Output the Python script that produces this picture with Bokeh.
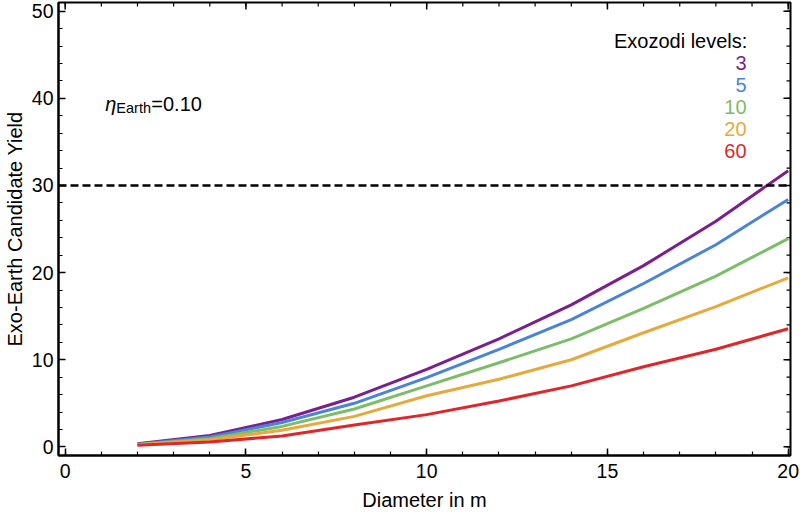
import math
from bokeh.plotting import figure
from bokeh.models import FixedTicker, Label, Span
from bokeh.embed import file_html
from bokeh.resources import INLINE

# ---- data ----
diameters = [2, 4, 6, 8, 10, 12, 14, 16, 18, 20]
exozodi_levels = ["3", "5", "10", "20", "60"]
yield_3 = [0.35, 1.32, 3.14, 5.7, 8.9, 12.4, 16.3, 20.8, 25.9, 31.7]
yield_5 = [0.3, 1.13, 2.8, 5.0, 7.95, 11.2, 14.6, 18.75, 23.2, 28.4]
yield_10 = [0.28, 0.94, 2.35, 4.35, 7.0, 9.66, 12.4, 15.9, 19.6, 23.9]
yield_20 = [0.25, 0.83, 1.9, 3.5, 5.86, 7.76, 10.0, 13.1, 16.1, 19.4]
yield_60 = [0.2, 0.57, 1.25, 2.5, 3.7, 5.26, 7.0, 9.2, 11.2, 13.56]
target_yield = 30
x_ticks = [0, 5, 10, 15, 20]
x_minor = list(range(0, 21))
y_ticks = [0, 10, 20, 30, 40, 50]
y_minor = list(range(0, 51, 2))

series = [yield_3, yield_5, yield_10, yield_20, yield_60]
colors = ["#7B1F8E", "#4A84D9", "#7DBC68", "#E5AA3B", "#E0262A"]

FONT = "Liberation Sans"
X0, X1 = -0.185, 20.064
Y0, Y1 = -0.99, 51.0

p = figure(width=800, height=513, x_range=(X0, X1), y_range=(Y0, Y1),
           output_backend="svg", toolbar_location=None,
           min_border_left=57, min_border_right=10, min_border_top=2,
           min_border_bottom=56)
p.xgrid.visible = False
p.ygrid.visible = False
p.outline_line_color = "black"
p.outline_line_width = 2
p.background_fill_color = "white"
p.border_fill_color = "white"

p.xaxis[0].ticker = FixedTicker(ticks=x_ticks, minor_ticks=x_minor)
p.yaxis[0].ticker = FixedTicker(ticks=y_ticks, minor_ticks=y_minor)

for ax in (p.xaxis[0], p.yaxis[0]):
    ax.axis_line_color = "black"
    ax.axis_line_width = 2
    ax.major_tick_in = 7
    ax.major_tick_out = 0
    ax.minor_tick_in = 4
    ax.minor_tick_out = 0
    ax.major_tick_line_width = 1.5
    ax.minor_tick_line_width = 1.2
    ax.major_label_text_font = FONT
    ax.major_label_text_font_size = "19.5px"
    ax.major_label_text_color = "black"
    ax.axis_label_text_font = FONT
    ax.axis_label_text_font_size = "20px"
    ax.axis_label_text_font_style = "normal"
    ax.axis_label_text_color = "black"

p.xaxis[0].axis_label = "Diameter in m"
p.yaxis[0].axis_label = "Exo-Earth Candidate Yield"
p.xaxis[0].major_label_standoff = 8
p.xaxis[0].axis_label_standoff = 8
p.yaxis[0].major_label_standoff = 5
p.yaxis[0].axis_label_standoff = 3

# frame ticks on top and right edges (inward)
p.ray(x=x_ticks, y=[Y1] * len(x_ticks), length=7, length_units="screen",
      angle=-math.pi / 2, line_color="black", line_width=1.5)
p.ray(x=x_minor, y=[Y1] * len(x_minor), length=4, length_units="screen",
      angle=-math.pi / 2, line_color="black", line_width=1.2)
p.ray(x=[X1] * len(y_ticks), y=y_ticks, length=7, length_units="screen",
      angle=math.pi, line_color="black", line_width=1.5)
p.ray(x=[X1] * len(y_minor), y=y_minor, length=4, length_units="screen",
      angle=math.pi, line_color="black", line_width=1.2)

for ys, c in zip(series, colors):
    p.line(diameters, ys, line_color=c, line_width=3)

p.add_layout(Span(location=target_yield, dimension="width", line_color="black",
                  line_width=2.5, line_dash="8 4"))

# eta label
p.add_layout(Label(x=1.11, y=39.3, text="η", text_font=FONT, text_font_size="20px",
                   text_font_style="italic", text_baseline="alphabetic", text_color="black"))
p.add_layout(Label(x=1.11, y=39.3, x_offset=11, y_offset=-3.5, text="Earth", text_font=FONT,
                   text_font_size="14.5px", text_baseline="alphabetic", text_color="black"))
p.add_layout(Label(x=1.11, y=39.3, x_offset=46, text="=0.10", text_font=FONT,
                   text_font_size="20px", text_baseline="alphabetic", text_color="black"))

# legend text
p.add_layout(Label(x=18.87, y=46.6, text="Exozodi levels:", text_font=FONT,
                   text_font_size="20px", text_align="right", text_baseline="alphabetic",
                   text_color="black"))
legend_y = [44.1, 41.55, 39.0, 36.45, 34.0]
for lab, c, ly in zip(exozodi_levels, colors, legend_y):
    p.add_layout(Label(x=18.85, y=ly, text=lab, text_font=FONT, text_font_size="20px",
                       text_align="right", text_baseline="alphabetic", text_color=c))

open("out.html", "w").write(file_html(p, INLINE))
